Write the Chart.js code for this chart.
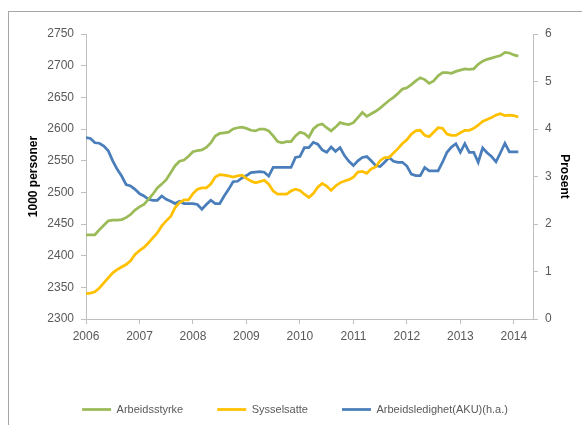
<meta charset="UTF-8">
<title>Arbeidsstyrke</title>
<script src="https://cdn.jsdelivr.net/npm/chart.js"></script>
<style>
  html, body { margin: 0; padding: 0; background: #fff; overflow: hidden; }
</style>
<script>
// monthly data, starting January 2006
var startYear = 2006;
var xTickYears = [2006, 2007, 2008, 2009, 2010, 2011, 2012, 2013, 2014];

var arbeidsstyrke = [
  2433, 2433, 2433, 2441, 2448, 2455, 2456, 2456, 2457, 2460, 2465, 2472,
  2477, 2481, 2489, 2497, 2507, 2513, 2520, 2531, 2542, 2549, 2551, 2557,
  2564, 2566, 2567, 2571, 2578, 2589, 2593, 2594, 2595, 2600, 2602, 2603,
  2601, 2598, 2597, 2600, 2600, 2597, 2589, 2580, 2578, 2580, 2580, 2589,
  2595, 2593, 2587, 2600, 2606, 2608, 2602, 2597, 2603, 2610, 2608, 2607,
  2610, 2618, 2626, 2620, 2624, 2628, 2633, 2639, 2645, 2650, 2656, 2663,
  2665, 2670, 2676, 2681, 2678, 2672, 2676, 2684, 2689, 2689, 2688, 2691,
  2693, 2695, 2694, 2695, 2702, 2707, 2710, 2712, 2714, 2716, 2721, 2720,
  2717, 2715
];

var sysselsatte = [
  2340, 2341, 2343, 2349, 2357, 2365, 2373, 2378, 2382, 2386, 2392, 2402,
  2408, 2413, 2420, 2428, 2436, 2447, 2455, 2462, 2476, 2484, 2488, 2488,
  2498, 2505, 2507, 2507, 2513, 2524, 2528, 2527, 2526, 2524, 2526, 2527,
  2522, 2518, 2515, 2517, 2519, 2513, 2502, 2497, 2497, 2497, 2502, 2505,
  2503, 2497, 2492, 2498, 2508, 2514, 2510, 2503, 2510, 2515, 2518, 2520,
  2524, 2532, 2533, 2530, 2537, 2540, 2550, 2555, 2555, 2562, 2569, 2577,
  2583, 2592, 2597, 2598, 2590, 2588, 2595, 2602, 2601, 2592, 2590, 2590,
  2594, 2598, 2598, 2601, 2606, 2612, 2615, 2618, 2622, 2624, 2621, 2622,
  2621, 2619
];

var arbeidsledighet = [
  3.82, 3.80, 3.71, 3.70, 3.64, 3.54, 3.33, 3.15, 3.01, 2.83, 2.80, 2.73,
  2.64, 2.59, 2.52, 2.50, 2.50, 2.59, 2.52, 2.48, 2.43, 2.48, 2.43, 2.43,
  2.43, 2.41, 2.31, 2.41, 2.50, 2.43, 2.43, 2.59, 2.73, 2.89, 2.90, 2.97,
  3.02, 3.08, 3.09, 3.10, 3.09, 3.01, 3.19, 3.19, 3.19, 3.19, 3.19, 3.40,
  3.42, 3.61, 3.61, 3.72, 3.68, 3.56, 3.51, 3.62, 3.53, 3.61, 3.44, 3.32,
  3.23, 3.33, 3.40, 3.42, 3.33, 3.23, 3.21, 3.30, 3.40, 3.32, 3.30, 3.30,
  3.22, 3.05, 3.02, 3.02, 3.19, 3.12, 3.12, 3.12, 3.30, 3.51, 3.62, 3.69,
  3.51, 3.69, 3.51, 3.51, 3.30, 3.60, 3.50, 3.42, 3.31, 3.50, 3.70, 3.52,
  3.52, 3.52
];

function toPoints(values){
    var pts = [];
    for (var i = 0; i < values.length; i++) {
        pts.push({x: startYear + i / 12, y: values[i]});
    }
    return pts;
}

var frame = {
    id: 'frame',
    beforeDraw: function(chart){
        var ctx = chart.ctx;
        ctx.save();
        ctx.fillStyle = '#fff';
        ctx.fillRect(0, 0, chart.width, chart.height);
        ctx.strokeStyle = '#a6a6a6';
        ctx.lineWidth = 1;
        ctx.strokeRect(8.5, 11.5, 700, 600);
        ctx.restore();
    }
};

function drawChart(){
    var ctx = document.getElementById('chart').getContext('2d');
    var axisColor = '#bfbfbf';
    var textColor = '#595959';
    var font = {family: 'Liberation Sans', size: 12};

    new Chart(ctx, {
        type: 'line',
        data: {
            datasets: [{
                label: 'Arbeidsstyrke',
                data: toPoints(arbeidsstyrke),
                borderColor: '#9bbb59',
                backgroundColor: '#9bbb59',
                borderWidth: 2.75,
                pointRadius: 0,
                yAxisID: 'y'
            }, {
                label: 'Sysselsatte',
                data: toPoints(sysselsatte),
                borderColor: '#ffc000',
                backgroundColor: '#ffc000',
                borderWidth: 2.75,
                pointRadius: 0,
                yAxisID: 'y'
            }, {
                label: 'Arbeidsledighet(AKU)(h.a.)',
                data: toPoints(arbeidsledighet),
                borderColor: '#4a7ebb',
                backgroundColor: '#4a7ebb',
                borderWidth: 2.75,
                pointRadius: 0,
                yAxisID: 'y1'
            }]
        },
        options: {
            responsive: false,
            animation: false,
            layout: {padding: {top: 34, left: 18, right: 10, bottom: 0}},
            scales: {
                x: {
                    type: 'linear',
                    min: 2006,
                    max: 2006 + 100.3 / 12,
                    afterFit: function(scale){ scale.height = 51; },
                    afterBuildTicks: function(scale){
                        scale.ticks = xTickYears.map(function(v){ return {value: v}; });
                    },
                    ticks: {
                        color: textColor, font: font, padding: 5, maxRotation: 0,
                        callback: function(v){ return String(v); }
                    },
                    grid: {display: true, drawOnChartArea: false, drawTicks: true, tickLength: 5, color: axisColor},
                    border: {color: axisColor}
                },
                y: {
                    position: 'left',
                    min: 2300,
                    max: 2750,
                    afterFit: function(scale){ scale.width = 68; },
                    ticks: {
                        stepSize: 50, color: textColor, font: font, padding: 7,
                        callback: function(v){ return String(v); }
                    },
                    grid: {display: true, drawOnChartArea: false, drawTicks: true, tickLength: 5, color: axisColor},
                    border: {color: axisColor},
                    title: {
                        display: true, text: '1000 personer', color: '#000',
                        font: {family: 'Liberation Sans', size: 12, weight: 'bold'},
                        padding: {top: 8, bottom: 0}
                    }
                },
                y1: {
                    position: 'right',
                    min: 0,
                    max: 6,
                    afterFit: function(scale){ scale.width = 39; },
                    ticks: {stepSize: 1, color: textColor, font: font, padding: 7},
                    grid: {display: true, drawOnChartArea: false, drawTicks: true, tickLength: 5, color: axisColor},
                    border: {color: axisColor},
                    title: {
                        display: true, text: 'Prosent', color: '#000',
                        font: {family: 'Liberation Sans', size: 12, weight: 'bold'},
                        padding: {top: 0, bottom: 0}
                    }
                }
            },
            plugins: {
                legend: {
                    position: 'bottom',
                    labels: {
                        color: textColor,
                        font: {family: 'Liberation Sans', size: 11},
                        usePointStyle: true,
                        pointStyle: 'line',
                        pointStyleWidth: 29,
                        padding: 34
                    }
                },
                tooltip: {enabled: false}
            }
        },
        plugins: [frame]
    });
}
</script>

<html>
    <body>
        <canvas id="chart" width="582" height="425"></canvas>
        <script>drawChart();</script>
    </body>
</html>
